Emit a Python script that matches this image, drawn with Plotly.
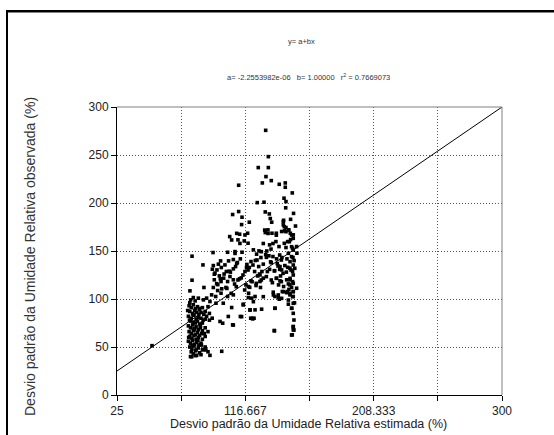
import plotly.graph_objects as go

# Estimated (x) and observed (y) standard deviation of relative humidity (%)
est = [
    # dense lower-left cluster
    76.5, 78, 79.5, 81, 82.5, 84, 86, 88, 90, 77, 79, 80.5, 82, 83.5, 85, 87, 89, 91,
    76, 78, 80, 81.5, 83, 85, 86.5, 88, 77.5, 79.5, 81, 82.5, 84, 86, 91, 93,
    76, 77.5, 79, 80, 81.5, 83, 84.5, 86, 88, 90, 76.5, 78, 79.5, 81, 82.5, 84, 85.5,
    77, 78.5, 80, 81.5, 83, 86, 88,
    76, 77.5, 79, 80.5, 82, 83.5, 85, 77, 78.5, 80, 81.5, 83, 78, 79.5, 81, 84, 86, 88, 90,
    77.5, 81, 85, 78.4, 81.9, 91.4, 86.6, 88.5, 85.3, 99.8, 50.0,
    75.5, 76.2, 77.0, 78.8, 80.2, 82.8, 84.6, 87.3, 79.2, 83.8, 76.8, 80.8,
    # scattered middle/upper points
    131.2, 133.1, 125.9, 133.1, 131.4, 135.2, 128.8, 140.9, 145.2, 145.2, 111.9, 150.2,
    144.3, 145.7, 125.2, 130.0, 130.9, 133.8, 111.9, 107.6, 114.3, 134.5, 135.5, 119.5,
    114.0, 144.0, 143.8, 145.7, 144.7, 147.6, 148.8, 150.9, 132.8, 135.7, 130.9, 138.8,
    142.6, 118.3, 112.6, 105.5, 115.9, 111.4, 118.6, 146.9, 149.0, 138.5, 134.0, 129.5,
    140.7, 145.7, 150.4, 153.3, 122.4, 126.4, 78.6, 93.6, 104.0, 109.3, 114.3, 108.1,
    113.1, 124.7, 127.8, 123.8, 131.2, 136.4, 139.0, 142.8, 146.4, 150.7, 153.5, 134.7,
    129.5, 126.2, 120.7, 119.5, 99.0, 104.7, 86.4, 93.8, 97.4, 102.1, 109.7, 93.1,
    96.4, 99.5, 103.1, 108.1, 141.4, 144.9, 148.5, 150.4, 142.6, 137.4, 132.4, 128.5,
    123.3, 116.4, 94.5, 98.1, 101.2, 105.7, 108.1, 94.5, 99.3, 104.0, 78.6, 120.7,
    127.1, 129.5, 127.1, 124.3, 139.0, 141.4, 146.2, 148.5, 148.5, 150.9, 140.4, 117.1,
    118.8, 87.1, 93.8, 96.9, 99.8, 77.1, 92.6, 95.5, 99.3, 104.0, 108.1, 136.6,
    143.1, 146.6, 150.9, 153.3, 140.2, 137.8, 123.6, 121.2, 118.8, 148.5, 150.9, 77.6,
    79.5, 83.1, 86.7, 89.0, 91.4, 95.7, 100.9, 106.9, 115.2, 120.0, 123.6, 128.3,
    137.8, 140.9, 147.4, 149.8, 120.5, 121.9, 104.5, 113.1, 98.6, 100.5, 107.6, 137.4,
    150.9, 150.9, 150.2,
    # right-hand column
    151.1, 143.8, 144.5, 145.7, 147.6, 149.7, 150.9, 148.1, 149.7, 150.9, 147.4, 149.7,
    148.6, 150.9, 146.9, 149.3, 150.9, 148.6, 150.4, 147.4, 149.7, 150.9, 148.6, 146.2,
    150.4, 147.4, 150.9, 149.7, 150.9, 151.4, 150.9, 151.4, 149.7, 143.8, 142.6, 140.2,
    137.9, 136.7, 129.5, 122.4, 121.9, 122.9, 120.0, 115.2, 108.1, 114.0, 137.4,
    130.5, 132.9, 136.4, 138.8, 141.2, 142.4, 140.0, 135.2, 131.7, 128.1, 125.0, 122.1,
    118.6, 115.0, 111.4, 109.0, 134.0, 137.6, 141.2, 143.6, 138.8, 142.4, 135.2, 131.7,
    128.1, 124.5, 119.8, 116.2, 110.2, 106.6, 110.5, 116.4, 112.8, 109.3, 106.9,
    # extra fill in the dense central band
    97.0, 101.5, 103.5, 106.0, 110.5, 112.5, 117.5, 119.0, 125.5, 127.5, 132.0, 136.0,
    139.5, 144.5, 146.0, 151.5, 152.5, 149.0, 145.5, 152.0, 151.8, 147.8, 144.0, 141.8,
    95.0, 96.2, 98.8, 102.8, 105.2, 111.0, 113.8, 117.8, 121.5, 126.8, 133.5, 135.0,
]
obs = [
    93, 91, 94, 90, 92, 89, 91, 87, 92, 87, 85, 88, 86, 84, 86, 84, 82, 85,
    82, 80, 83, 79, 81, 80, 78, 79, 77, 76, 75, 77, 74, 75, 78, 80,
    72, 70, 73, 69, 71, 68, 70, 67, 70, 66, 66, 64, 67, 63, 65, 62, 64,
    61, 59, 62, 58, 60, 58, 61,
    56, 54, 57, 53, 55, 52, 54, 50, 48, 51, 47, 49, 45, 43, 46, 44, 47, 50, 45,
    40, 41, 42, 39.9, 41.3, 41.3, 47.5, 46.9, 52.0, 45.5, 51.4,
    88, 60, 96, 52, 68, 57, 72, 64, 84, 90, 78, 98,
    275.7, 248.3, 236.9, 236.9, 227.5, 223.3, 220.9, 219.5, 220.9, 216.4, 218.5, 210.5,
    205.0, 201.5, 200.4, 200.8, 190.7, 188.6, 191.1, 188.0, 185.2, 183.8, 180.0, 180.0,
    177.5, 182.0, 177.2, 174.4, 171.0, 172.0, 168.5, 166.8, 172.0, 168.5, 169.2, 168.5,
    170.3, 168.5, 167.5, 165.0, 160.5, 161.6, 158.1, 159.8, 161.9, 159.8, 156.4, 157.8,
    154.6, 153.6, 152.9, 154.6, 151.2, 150.1, 144.6, 148.4, 148.7, 149.4, 148.7, 141.1,
    141.8, 146.7, 143.2, 140.1, 146.3, 144.2, 141.8, 143.2, 141.8, 143.2, 147.7, 138.7,
    136.3, 133.8, 139.0, 132.8, 139.7, 139.7, 135.5, 134.8, 136.3, 135.5, 133.8, 131.0,
    130.3, 132.8, 128.6, 131.4, 133.8, 134.8, 132.1, 128.6, 130.3, 129.3, 128.6, 128.6,
    128.6, 128.6, 125.8, 124.1, 121.7, 123.4, 120.0, 120.0, 118.2, 118.2, 119.6, 118.9,
    125.1, 121.7, 118.2, 114.0, 121.7, 118.9, 120.0, 120.0, 114.7, 116.4, 114.7, 114.7,
    113.0, 112.0, 112.0, 108.8, 110.6, 108.5, 104.3, 102.6, 106.0, 102.6, 104.3, 107.1,
    107.8, 107.8, 107.8, 111.2, 101.5, 102.6, 102.6, 100.9, 101.5, 104.3, 102.6, 99.1,
    101.5, 100.9, 99.1, 100.9, 97.4, 95.6, 95.6, 91.1, 94.6, 88.7, 88.7, 89.4,
    90.4, 99.8, 94.6, 90.4, 80.0, 79.3, 81.8, 81.8, 76.6, 74.8, 73.1, 67.2,
    71.3, 67.9, 62.7,
    189.2, 180.6, 175.3, 170.1, 171.8, 166.7, 163.2, 159.7, 154.5, 151.0, 147.6, 144.1,
    138.9, 135.4, 133.0, 130.2, 125.0, 121.5, 118.1, 115.7, 112.2, 107.6, 105.9, 106.6,
    102.4, 98.9, 95.5, 90.3, 85.1, 78.1, 71.2, 67.7, 62.5, 107.6, 100.7, 104.2,
    90.3, 104.2, 102.4, 97.2, 79.9, 79.9, 88.5, 93.8, 72.9, 81.6, 66.8,
    171.8, 168.3, 157.8, 166.5, 145.8, 140.6, 134.4, 137.8, 143.4, 149.3, 140.6, 135.4,
    130.2, 125.0, 119.8, 115.6, 130.9, 129.5, 130.9, 126.7, 121.5, 118.1, 119.8, 123.3,
    119.8, 116.3, 112.2, 109.4, 112.8, 105.9, 168.4, 166.7, 157.9, 147.5, 161.5,
    115.0, 126.0, 111.0, 128.0, 137.0, 121.0, 133.0, 106.0, 124.0, 112.0, 150.0, 117.0,
    137.0, 158.0, 128.0, 140.0, 176.0, 183.0, 195.0, 132.0, 96.0, 110.0, 113.0, 124.0,
    127.0, 116.0, 121.0, 112.0, 129.0, 138.0, 122.0, 136.0, 118.0, 126.0, 145.0, 152.0,
]

line_x = [25, 300]
line_y = [25, 300]

x_tickvals = [25, 116.667, 208.333, 300]
x_ticktext = ["25", "116.667", "208.333", "300"]
x_minorvals = [70.833, 162.5, 254.167]
y_tickvals = [0, 50, 100, 150, 200, 250, 300]

eq_text = "y= a+bx"
coef_text = "a= -2.2553982e-06   b= 1.00000   r<sup>2</sup> = 0.7669073"
x_title = "Desvio padrão da Umidade Relativa estimada (%)"
y_title = "Desvio padrão da Umidade Relativa observada (%)"

FONT = "Liberation Sans, Arial, sans-serif"
GRID = "#555555"
GDASH = "1px,2px"

fig = go.Figure()
fig.add_trace(go.Scatter(x=line_x, y=line_y, mode="lines",
                         line=dict(color="black", width=1), hoverinfo="skip"))
fig.add_trace(go.Scatter(x=est, y=obs, mode="markers",
                         marker=dict(symbol="square", size=3.6, color="black",
                                     line=dict(width=0))))

axis_common = dict(
    showline=True, linecolor="black", linewidth=1,
    ticks="outside", ticklen=5, tickcolor="black", tickwidth=1,
    showgrid=True, gridcolor=GRID, griddash=GDASH, gridwidth=1,
    zeroline=False, mirror=False,
    tickfont=dict(family=FONT, size=12, color="#222"),
)

fig.update_layout(
    width=554, height=435,
    margin=dict(l=117, r=52, t=107, b=40),
    paper_bgcolor="white", plot_bgcolor="white",
    showlegend=False,
    xaxis=dict(range=[25, 300], tickmode="array", tickvals=x_tickvals,
               ticktext=x_ticktext,
               minor=dict(tickmode="array", tickvals=x_minorvals, ticks="outside",
                          ticklen=5, tickcolor="black", showgrid=True,
                          gridcolor=GRID, griddash=GDASH, gridwidth=1),
               **axis_common),
    yaxis=dict(range=[0, 300], tickmode="array", tickvals=y_tickvals,
               **axis_common),
    shapes=[
        # gray top and right border of plot area
        dict(type="line", xref="paper", yref="paper", x0=0, x1=1, y0=1, y1=1,
             line=dict(color="#808080", width=1)),
        dict(type="line", xref="paper", yref="paper", x0=1, x1=1, y0=0, y1=1,
             line=dict(color="#808080", width=1)),
        # outer frame (top and left visible)
        dict(type="line", xref="paper", yref="paper", x0=-0.2857, x1=1.3, y0=1.3316, y1=1.3316,
             line=dict(color="black", width=2), layer="above"),
        dict(type="line", xref="paper", yref="paper", x0=-0.2857, x1=-0.2857, y0=-0.3, y1=1.3316,
             line=dict(color="black", width=1.6), layer="above"),
    ],
    annotations=[
        dict(text=eq_text, xref="paper", yref="paper", x=0.4805, y=1.2257,
             xanchor="center", yanchor="middle",
             showarrow=False, font=dict(family=FONT, size=7.5, color="#333")),
        dict(text=coef_text, xref="paper", yref="paper", x=0.4987, y=1.1042,
             xanchor="center", yanchor="middle",
             showarrow=False, font=dict(family=FONT, size=7.5, color="#333")),
        dict(text=x_title, xref="paper", yref="paper", x=0.4987, y=-0.1007,
             xanchor="center", yanchor="middle",
             showarrow=False, font=dict(family=FONT, size=12.5, color="#222")),
        dict(text=y_title, xref="paper", yref="paper", x=-0.226, y=0.4826,
             xanchor="center", yanchor="middle",
             showarrow=False, textangle=-90, font=dict(family=FONT, size=14, color="#333")),
    ],
)

frame_js = (
    "document.body.style.margin='0';"
    "document.body.style.overflow='hidden';"
    "var fr=document.createElement('div');"
    "fr.style.cssText='position:absolute;left:6px;top:10px;width:800px;height:800px;"
    "border-top:2px solid #000;border-left:2px solid #000;pointer-events:none;';"
    "document.body.appendChild(fr);"
)

fig.write_html(
    "out.html",
    config={"displayModeBar": False},
    post_script=frame_js,
)
